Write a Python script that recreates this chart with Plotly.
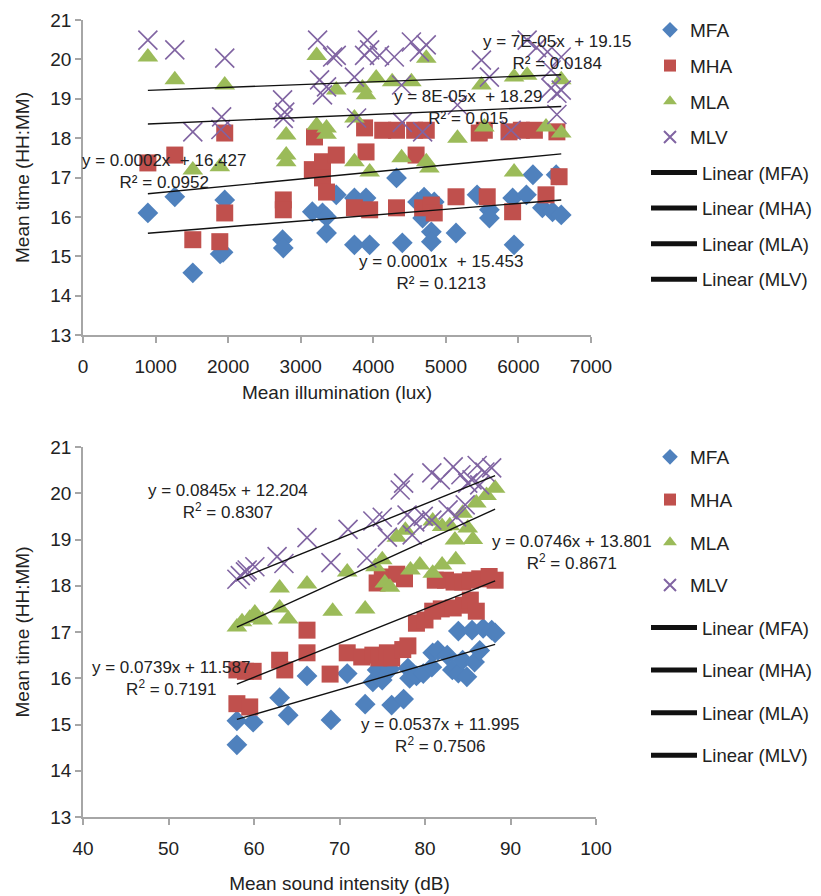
import plotly.graph_objects as go

# page body has an 8px margin, so the figure is drawn 8px in from the top-left corner
OFF = 8
W, H = 821 - OFF, 896 - OFF

series = ["MFA", "MHA", "MLA", "MLV"]

# ---- Top chart: mean illumination (lux) vs mean time ----
lux_MFA = [894, 1265, 1513, 1890, 1930, 1953, 2750, 2760, 3160, 3300, 3356, 3356, 3490, 3740, 3740, 3900, 3950,
           4320, 4400, 4610, 4680, 4700, 4800, 4800, 4840, 5140, 5430, 5600, 5600, 5920, 5940, 6110, 6200, 6330,
           6470, 6520, 6590]
t_lux_MFA = [16.10, 16.51, 14.58, 15.06, 15.10, 16.43, 15.42, 15.21, 16.13, 16.10, 16.00, 15.59, 16.56, 16.48, 15.29,
             16.48, 15.29, 16.99, 15.34, 16.38, 15.97, 16.50, 15.62, 15.37, 16.38, 15.59, 16.56, 16.18, 15.97, 16.48,
             15.29, 16.56, 17.07, 16.23, 16.13, 17.07, 16.05]

lux_MHA = [894, 1265, 1513, 1885, 1953, 1953, 2760, 2760, 3160, 3190, 3300, 3300, 3356, 3490, 3740, 3880, 3900, 3950,
           4130, 4320, 4320, 4570, 4590, 4680, 4730, 4800, 4840, 5140, 5460, 5530, 5570, 5870, 5920, 6040, 6220, 6380,
           6530, 6560]
t_lux_MHA = [17.37, 17.57, 15.42, 15.37, 18.13, 16.10, 16.43, 16.18, 17.20, 18.03, 17.40, 16.99, 16.63, 17.57, 16.23,
             18.26, 17.65, 16.18, 18.20, 18.20, 16.23, 18.20, 17.57, 16.23, 18.20, 16.30, 16.10, 16.51, 18.13, 18.20,
             16.51, 18.16, 16.13, 18.20, 18.20, 16.56, 18.16, 17.02]

lux_MLA = [894, 1265, 1513, 1885, 1953, 2800, 2800, 2800, 3220, 3220, 3356, 3356, 3490, 3740, 3740, 3850, 3900, 3950,
           4040, 4260, 4390, 4525, 4730, 4730, 4773, 5160, 5490, 5530, 5940, 5940, 6120, 6380, 6590, 6590]
t_lux_MLA = [20.06, 19.48, 17.19, 17.27, 19.35, 18.08, 17.57, 17.40, 20.10, 18.33, 18.26, 18.10, 19.22, 18.51, 17.40,
             19.27, 19.10, 17.14, 19.53, 19.43, 17.50, 19.43, 20.03, 17.40, 17.24, 18.00, 19.35, 18.28, 19.55, 17.14,
             19.60, 18.28, 19.48, 18.13]

lux_MLV = [894, 1265, 1513, 1900, 1910, 1953, 2750, 2760, 2780, 3233, 3260, 3300, 3356, 3440, 3490, 3740, 3770, 3880,
           3920, 3950, 4085, 4290, 4390, 4400, 4525, 4635, 4680, 4730, 5160, 5490, 5600, 5900, 6120, 6250, 6400, 6450,
           6450, 6530, 6530, 6590, 6590]
t_lux_MLV = [20.49, 20.24, 18.16, 18.22, 18.54, 20.03, 18.97, 18.50, 18.66, 20.49, 19.48, 19.10, 19.30, 20.06, 20.10,
             19.55, 18.51, 20.10, 20.49, 20.24, 20.10, 20.06, 19.35, 18.40, 20.44, 20.19, 18.16, 20.37, 18.84, 19.98,
             19.55, 18.20, 20.49, 20.30, 20.19, 19.73, 19.27, 19.14, 18.60, 20.06, 19.22]

# linear trendlines (slope, intercept)
lux_slope = [0.000148, 0.000178, 0.000078, 0.000070]
lux_intercept = [15.453, 16.427, 18.29, 19.15]
lux_eq_text = ["y = 0.0001x  + 15.453<br>R² = 0.1213",
               "y = 0.0002x  + 16.427<br>R² = 0.0952",
               "y = 8E-05x  + 18.29<br>R² = 0.015",
               "y = 7E-05x  + 19.15<br>R² = 0.0184"]

# ---- Bottom chart: mean sound intensity (dB) vs mean time ----
db_MFA = [58.0, 58.0, 59.9, 63.0, 64.0, 66.2, 69.0, 70.9, 73.0, 73.9, 74.4, 75.0, 75.9, 76.1, 77.5, 78.0, 78.2, 79.0,
          79.8, 80.8, 80.9, 81.5, 82.6, 83.2, 83.9, 83.9, 84.4, 84.9, 85.5, 85.8, 86.4, 86.8, 87.8, 88.2]
t_db_MFA = [14.56, 15.08, 15.05, 15.58, 15.20, 16.05, 15.10, 16.10, 15.44, 15.92, 16.18, 15.96, 16.20, 15.42, 15.55,
            16.22, 16.00, 16.05, 16.10, 16.24, 16.55, 16.60, 16.50, 16.18, 16.11, 17.02, 16.39, 16.03, 17.04, 16.35,
            16.60, 17.08, 17.04, 16.98]

db_MHA = [58.0, 59.0, 59.9, 58.0, 59.5, 63.0, 63.6, 66.2, 66.2, 68.9, 70.9, 72.6, 73.9, 74.6, 75.6, 76.1, 77.4, 78.0,
          74.4, 75.0, 76.7, 77.6, 79.0, 80.0, 80.9, 81.9, 83.3, 84.5, 85.3, 86.0, 81.2, 82.4, 83.4, 84.4, 85.3, 86.4,
          87.5, 88.2]
t_db_MHA = [16.18, 16.15, 16.15, 15.45, 15.38, 16.39, 16.18, 17.04, 16.55, 16.09, 16.55, 16.46, 16.50, 16.44, 16.55,
            16.44, 16.62, 16.70, 18.06, 18.19, 18.25, 18.15, 17.19, 17.26, 17.45, 17.50, 17.52, 17.58, 17.69, 17.45,
            18.12, 18.12, 18.08, 18.08, 18.12, 18.15, 18.20, 18.12]

db_MLA = [58.0, 58.6, 59.5, 60.1, 61.0, 63.0, 63.0, 64.0, 66.2, 69.2, 70.9, 73.0, 74.2, 75.0, 75.3, 75.9, 76.7, 77.7,
          78.3, 79.4, 80.9, 82.0, 83.6, 80.9, 82.0, 82.9, 83.5, 84.4, 85.0, 85.6, 86.0, 87.2, 88.2]
t_db_MLA = [17.11, 17.22, 17.30, 17.41, 17.26, 17.95, 17.52, 17.28, 18.04, 17.45, 18.30, 17.50, 18.41, 18.56, 18.06,
            17.97, 19.05, 19.20, 18.34, 18.45, 18.27, 18.45, 18.56, 19.40, 19.28, 19.30, 18.99, 19.57, 19.25, 19.00,
            19.79, 19.95, 20.11]

db_MLV = [58.0, 58.4, 59.0, 59.2, 60.1, 62.7, 63.5, 66.2, 69.0, 71.0, 73.2, 73.9, 75.0, 75.6, 77.1, 77.5, 77.9, 78.5,
          78.8, 79.8, 80.8, 80.8, 81.8, 82.7, 83.3, 83.7, 84.2, 84.7, 85.0, 85.5, 86.1, 86.4, 87.0, 87.8]
t_db_MLV = [18.14, 18.22, 18.30, 18.34, 18.41, 18.63, 18.48, 19.04, 18.50, 19.22, 18.60, 19.40, 19.48, 19.05, 20.07,
            20.22, 19.53, 19.10, 19.38, 19.50, 19.42, 20.44, 20.29, 19.64, 20.57, 19.49, 20.40, 19.75, 20.22, 20.29,
            20.60, 20.18, 20.46, 20.55]

db_slope = [0.0537, 0.0739, 0.0845, 0.0746]
db_intercept = [11.995, 11.587, 12.204, 13.801]
db_eq_text = ["y = 0.0537x + 11.995<br>R<sup>2</sup> = 0.7506",
              "y = 0.0739x + 11.587<br>R<sup>2</sup> = 0.7191",
              "y = 0.0845x + 12.204<br>R<sup>2</sup> = 0.8307",
              "y = 0.0746x + 13.801<br>R<sup>2</sup> = 0.8671"]

# ---- styling ----
FONT = "Liberation Sans"
TXT = "#222222"
colors = ["#4F81BD", "#C0504D", "#9BBB59", "#8064A2"]
symbols = ["diamond", "square", "triangle-up", "x-thin-open"]
sizes = [16, 17, 18, 19]


def px_x(p):
    return (p - OFF) / W


def px_y(p):
    return 1 - (p - OFF) / H


fig = go.Figure()

top_x = [lux_MFA, lux_MHA, lux_MLA, lux_MLV]
top_y = [t_lux_MFA, t_lux_MHA, t_lux_MLA, t_lux_MLV]
bot_x = [db_MFA, db_MHA, db_MLA, db_MLV]
bot_y = [t_db_MFA, t_db_MHA, t_db_MLA, t_db_MLV]


def add_chart(xs, ys, slopes, intercepts, xa, ya, leg_m, leg_l, grp):
    for i, name in enumerate(series):
        mk = dict(color=colors[i], size=sizes[i], symbol=symbols[i])
        if symbols[i].endswith("open"):
            mk["line"] = dict(color=colors[i], width=1.6)
        else:
            mk["line"] = dict(width=0)
        fig.add_trace(go.Scatter(x=xs[i], y=ys[i], mode="markers", name=name, marker=mk,
                                 xaxis=xa, yaxis=ya, legend=leg_m, legendgroup=grp + name))
    xmin = min(min(v) for v in xs)
    xmax = max(max(v) for v in xs)
    for i, name in enumerate(series):
        lx = [xmin, xmax]
        ly = [slopes[i] * v + intercepts[i] for v in lx]
        fig.add_trace(go.Scatter(x=lx, y=ly, mode="lines", name="Linear (%s)" % name,
                                 line=dict(color="#111111", width=1.4),
                                 xaxis=xa, yaxis=ya, legend=leg_l, legendgroup=grp + "L" + name))


add_chart(top_x, top_y, lux_slope, lux_intercept, "x", "y", "legend", "legend2", "t")
add_chart(bot_x, bot_y, db_slope, db_intercept, "x2", "y2", "legend3", "legend4", "b")

axis_common = dict(showline=True, linecolor="#A6A6A6", linewidth=1.5, ticks="outside", tickcolor="#A6A6A6",
                   ticklen=6, tickwidth=1.5, showgrid=False, zeroline=False, automargin=False,
                   tickfont=dict(family=FONT, size=19, color=TXT))
x_extra = dict(ticklabelstandoff=7)

fig.update_layout(
    width=W, height=H,
    margin=dict(l=0, r=0, t=0, b=0, autoexpand=False),
    paper_bgcolor="white", plot_bgcolor="white",
    font=dict(family=FONT, color=TXT),
    xaxis=dict(axis_common, **x_extra, domain=[px_x(83), px_x(591)], range=[0, 7000], dtick=1000, anchor="y",
               title=dict(text="Mean illumination (lux)", font=dict(size=19, family=FONT, color=TXT), standoff=10)),
    yaxis=dict(axis_common, domain=[px_y(335), px_y(20)], range=[13, 21], dtick=1, anchor="x",
               title=dict(text="Mean time (HH:MM)", font=dict(size=19, family=FONT, color=TXT), standoff=16)),
    xaxis2=dict(axis_common, **x_extra, domain=[px_x(83), px_x(596)], range=[40, 100], dtick=10, anchor="y2",
                title=dict(text="Mean sound intensity (dB)", font=dict(size=19, family=FONT, color=TXT), standoff=19)),
    yaxis2=dict(axis_common, domain=[px_y(817), px_y(447)], range=[13, 21], dtick=1, anchor="x2",
                title=dict(text="Mean time (HH:MM)", font=dict(size=19, family=FONT, color=TXT), standoff=16)),
    showlegend=True,
)

leg_common = dict(bgcolor="rgba(0,0,0,0)", borderwidth=0,
                  xanchor="left", yanchor="top", itemsizing="constant")
mk_font = dict(family=FONT, size=19, color=TXT)
ln_font = dict(family=FONT, size=18.5, color=TXT)
fig.update_layout(
    legend=dict(leg_common, font=mk_font, x=px_x(650), y=px_y(11), tracegroupgap=8),
    legend2=dict(leg_common, font=ln_font, x=px_x(646), y=px_y(154), tracegroupgap=8.5, itemwidth=46),
    legend3=dict(leg_common, font=mk_font, x=px_x(650), y=px_y(438), tracegroupgap=15),
    legend4=dict(leg_common, font=ln_font, x=px_x(646), y=px_y(609), tracegroupgap=15.5, itemwidth=46),
)

# trendline equation labels (centre positions in page pixels)
top_lbl_pos = [(441, 272), (164, 171), (468, 108), (557, 52)]
bot_lbl_pos = [(440, 735), (171, 678), (228, 501), (572, 552)]
for txt, (cx, cy) in zip(lux_eq_text, top_lbl_pos):
    fig.add_annotation(x=px_x(cx), y=px_y(cy), xref="paper", yref="paper", text=txt, showarrow=False,
                       xanchor="center", yanchor="middle", align="center",
                       font=dict(family=FONT, size=17, color=TXT))
for txt, (cx, cy) in zip(db_eq_text, bot_lbl_pos):
    fig.add_annotation(x=px_x(cx), y=px_y(cy), xref="paper", yref="paper", text=txt, showarrow=False,
                       xanchor="center", yanchor="middle", align="center",
                       font=dict(family=FONT, size=17, color=TXT))

fig.write_html("out.html")
